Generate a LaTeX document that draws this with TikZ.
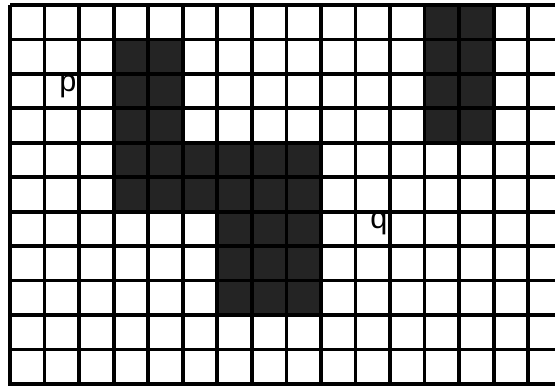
\documentclass[tikz,border=0pt]{standalone}
\usepackage{fontspec}
\setmainfont{Liberation Sans}
\begin{document}
\begin{tikzpicture}[x=0.75pt,y=-0.75pt,
  gridline/.style={line width=2.8pt,black},
  shadecell/.style={fill=black!86},
  lbl/.style={font=\fontsize{23}{27}\selectfont,anchor=base,inner sep=0pt}]
\useasboundingbox (0,0) rectangle (555,385);
\clip (0,0) rectangle (555,385);
\fill[white] (0,0) rectangle (555,385);
% shaded regions
\fill[shadecell] (113.65,39.45) rectangle (182.75,143.35);
\fill[shadecell] (113.65,143.35) rectangle (321.0,212.25);
\fill[shadecell] (217.3,212.25) rectangle (321.0,315.6);
\fill[shadecell] (424.6,5) rectangle (493.7,143.35);
% grid
\foreach \i in {0,...,15} {
  \draw[gridline] ({10+34.55*\i},5) -- ({10+34.55*\i},386);
}
\foreach \j in {0,...,11} {
  \draw[gridline] (10,{5+34.45*\j}) -- (556,{5+34.45*\j});
}
% labels
\node[lbl] (p) at (68,91) {p};
\node[lbl] (q) at (379,228) {q};
\end{tikzpicture}
\end{document}
